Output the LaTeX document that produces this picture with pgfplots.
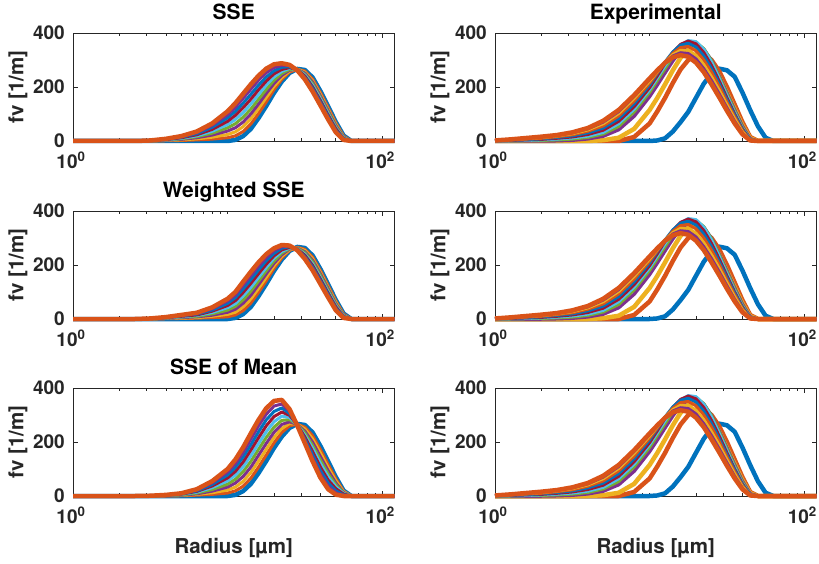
\documentclass[border=0pt]{standalone}
\usepackage{fontspec}
\setmainfont{TeX Gyre Heros}
\usepackage{pgfplots}
\usepackage{pgfplotstable}
\pgfplotsset{compat=1.18}

\definecolor{mb}{HTML}{0072BD}
\definecolor{mo}{HTML}{D95319}
\definecolor{my}{HTML}{EDB120}
\definecolor{mp}{HTML}{7E2F8E}
\definecolor{mg}{HTML}{77AC30}
\definecolor{mc}{HTML}{4DBEEE}
\definecolor{mr}{HTML}{A2142F}
\definecolor{axgray}{HTML}{262626}

\newcommand{\tickfont}{\bfseries\fontsize{19}{21}\selectfont}
\newcommand{\labfont}{\bfseries\fontsize{20.5}{23}\selectfont}
\newcommand{\titfont}{\bfseries\fontsize{21}{24}\selectfont}

% fitted size distributions, fv [1/m] against radius [um]
\pgfplotstableread{
r b k1 k2 k3 k4 k5 k6 k7 k8 o
1 0 0 0 0 0 0 0 0 0 0
2.512 0 0 0 0 0 0 0 0 0 0
3.162 0 0 0 1 1 1 1 2 2 2
3.981 0 1 2 3 4 4 5 6 7 8
5.012 0 2 4 6 8 10 12 14 16 18
6.310 0 4 8 12 16 19 23 27 31 35
7.943 0 7 14 22 29 36 43 51 58 65
10 0 12 24 37 49 61 73 86 98 110
11.22 4 19 34 49 64 80 95 110 125 140
12.59 18 35 53 70 88 105 123 140 158 175
14.13 45 63 82 100 118 137 155 173 192 210
15.85 85 102 120 137 155 172 190 207 225 242
17.78 130 145 161 176 191 207 222 237 253 268
19.95 178 190 202 213 225 237 249 260 272 284
22.39 220 228 235 243 250 258 265 273 280 288
25.12 252 255 259 262 265 269 272 275 279 282
28.18 267 266 266 265 265 264 264 263 263 262
31.62 263 259 255 251 247 244 240 236 232 228
35.48 235 229 223 218 212 206 200 195 189 183
39.81 185 179 173 167 161 156 150 144 138 132
44.67 128 123 117 112 107 101 96 91 85 80
50.12 70 66 62 57 53 49 45 40 36 32
56.23 20 18 16 15 13 11 9 8 6 4
63.10 0 0 0 0 0 0 0 0 0 0
120 0 0 0 0 0 0 0 0 0 0
}\sse

\pgfplotstableread{
r b k1 k2 k3 k4 k5 k6 k7 k8 o
1 0 0 0 0 0 0 0 0 0 0
2.512 0 0 0 0 0 0 0 0 0 0
3.162 0 0 0 1 1 1 1 2 2 2
3.981 0 1 2 2 3 4 5 5 6 7
5.012 0 2 3 5 7 8 10 12 13 15
6.310 0 3 5 8 10 13 15 18 20 23
7.943 0 5 10 14 19 24 29 33 38 43
10 0 8 17 25 33 42 50 58 67 75
11.22 4 15 25 36 47 57 68 79 89 100
12.59 18 31 45 58 71 85 98 111 125 138
14.13 45 59 74 88 103 117 132 146 161 175
15.85 85 99 113 127 141 154 168 182 196 210
17.78 130 142 154 167 179 191 203 216 228 240
19.95 178 187 197 206 215 225 234 243 253 262
22.39 220 226 232 238 244 250 256 262 268 274
25.12 252 254 256 259 261 263 265 268 270 272
28.18 267 266 264 263 262 260 259 258 256 255
31.62 263 258 254 249 245 240 236 231 227 222
35.48 235 229 223 217 211 204 198 192 186 180
39.81 185 179 173 167 161 154 148 142 136 130
44.67 128 123 117 112 107 101 96 91 85 80
50.12 70 66 62 57 53 49 45 40 36 32
56.23 20 18 16 15 13 11 9 8 6 4
63.10 0 0 0 0 0 0 0 0 0 0
120 0 0 0 0 0 0 0 0 0 0
}\wsse

\pgfplotstableread{
r b k1 k2 k3 k4 k5 k6 k7 k8 o
1 0 0 0 0 0 0 0 0 0 0
2.512 0 0 0 0 0 0 0 0 0 0
3.162 0 0 0 0 0 1 1 1 1 1
3.981 0 0 1 1 2 2 3 3 4 4
5.012 0 1 2 3 4 6 7 8 9 10
6.310 0 3 6 8 11 14 17 19 22 25
7.943 0 6 12 18 24 31 37 43 49 55
10 0 11 22 33 44 56 67 78 89 100
11.22 4 19 33 48 62 77 91 106 120 135
12.59 18 36 54 72 90 108 126 144 162 180
14.13 45 66 87 107 128 149 170 190 211 232
15.85 85 107 129 151 173 194 216 238 260 282
17.78 130 152 173 195 217 238 260 282 303 325
19.95 178 197 217 236 255 275 294 313 333 352
22.39 220 235 250 265 280 296 311 326 341 356
25.12 252 260 268 275 283 291 299 306 314 322
28.18 267 266 266 265 265 264 264 263 263 262
31.62 263 255 248 240 233 225 218 210 203 195
35.48 235 223 211 199 187 176 164 152 140 128
39.81 185 172 159 146 133 120 107 94 81 68
44.67 128 117 105 94 82 71 59 48 36 25
50.12 70 63 56 48 41 34 27 19 12 5
56.23 20 18 16 13 11 9 7 4 2 0
63.10 0 0 0 0 0 0 0 0 0 0
120 0 0 0 0 0 0 0 0 0 0
}\mean

\pgfplotstableread{
r b o2 y3 c4 c5 c6 c7 c8 c9 c10 c11 o12
1 0 0 0 0 0 0 1 1 1 2 2 2
1.259 0 0 0 0 0 1 2 3 4 5 5 6
1.585 0 0 0 0 1 2 4 5 7 9 10 11
1.995 0 0 0 0 2 4 6 8 10 13 15 16
2.512 0 0 0 1 4 7 10 13 16 19 21 22
3.162 0 0 0 3 7 11 15 19 23 27 30 32
3.981 0 0 0 8 13 18 24 30 36 41 45 48
5.012 0 0 3 18 26 32 40 48 56 64 70 75
6.310 0 0 12 42 54 64 73 83 93 102 109 115
7.943 0 15 45 92 108 118 127 138 148 158 165 170
10 0 65 115 165 180 190 198 208 215 222 228 232
11.22 2 110 160 208 224 234 242 250 253 257 260 262
12.59 10 160 210 253 268 279 288 293 292 291 290 290
14.13 35 215 262 297 312 322 328 330 325 320 315 310
15.85 70 265 308 334 347 356 358 355 346 336 327 318
17.78 108 300 338 357 367 372 370 362 350 336 324 312
19.95 160 320 348 360 366 368 360 348 334 318 304 290
22.39 212 322 330 340 342 340 328 315 300 283 268 255
25.12 250 300 290 298 298 293 280 268 255 238 224 210
28.18 268 258 238 240 238 232 222 212 202 188 175 162
31.62 262 200 178 178 175 168 160 152 144 134 123 112
35.48 238 135 118 115 112 106 100 95 89 82 73 65
39.81 180 70 58 55 52 48 45 42 38 34 29 25
44.67 115 15 10 8 6 5 4 4 3 3 2 2
50.12 55 0 0 0 0 0 0 0 0 0 0 0
56.23 12 0 0 0 0 0 0 0 0 0 0 0
63.10 0 0 0 0 0 0 0 0 0 0 0 0
120 0 0 0 0 0 0 0 0 0 0 0 0
}\expt

\pgfplotsset{
  panel/.style={
    scale only axis, width=321.5pt, height=108pt, anchor=south west,
    xmin=1, xmax=120, ymin=0, ymax=400,
    xtick={1,100}, xticklabels={10\textsuperscript{0},10\textsuperscript{2}},
    minor xtick={2,3,4,5,6,7,8,9,10,20,30,40,50,60,70,80,90},
    ytick={0,200,400}, yticklabels={0,200,400},
    tick pos=both, xticklabel pos=lower, yticklabel pos=left,
    tick align=inside, major tick length=5pt, minor tick length=3pt,
    axis line style={axgray, line width=0.8pt},
    every tick/.style={axgray, line width=0.7pt},
    ticklabel style={font=\tickfont, text=axgray},
    xticklabel style={inner sep=0pt, anchor=north, yshift=-11pt, xshift=-2pt},
    yticklabel style={inner sep=0pt, anchor=east, xshift=-8pt},
    ylabel={fv [1/m]},
    ylabel style={at={([xshift=-55pt]axis description cs:0,0.5)}, anchor=center,
                  font=\labfont, text=axgray},
    xlabel style={at={([yshift=-52pt]axis description cs:0.5,0)}, anchor=center,
                  font=\labfont, text=axgray},
    title style={at={(0.5,1)}, anchor=base, yshift=8pt, font=\titfont, text=black},
    clip=false,
    every axis plot/.append style={line join=round, no markers},
  },
}

\newcommand{\leftcurves}[1]{%
  \addplot[mb, line width=4.5pt] table[x=r,y=b]{#1};
  \addplot[mo, line width=3pt] table[x=r,y=k1]{#1};
  \addplot[my, line width=3pt] table[x=r,y=k2]{#1};
  \addplot[mp, line width=3pt] table[x=r,y=k3]{#1};
  \addplot[mg, line width=3pt] table[x=r,y=k4]{#1};
  \addplot[mc, line width=3pt] table[x=r,y=k5]{#1};
  \addplot[mr, line width=3pt] table[x=r,y=k6]{#1};
  \addplot[mb, line width=3pt] table[x=r,y=k7]{#1};
  \addplot[mp, line width=3pt] table[x=r,y=k8]{#1};
  \addplot[mo, line width=4.5pt] table[x=r,y=o]{#1};
}

\newcommand{\expcurves}{%
  \addplot[mb, line width=4.5pt] table[x=r,y=b]{\expt};
  \addplot[mo, line width=4.5pt] table[x=r,y=o2]{\expt};
  \addplot[my, line width=4.5pt] table[x=r,y=y3]{\expt};
  \addplot[mp, line width=3.5pt] table[x=r,y=c4]{\expt};
  \addplot[mg, line width=3pt] table[x=r,y=c5]{\expt};
  \addplot[mc, line width=3pt] table[x=r,y=c6]{\expt};
  \addplot[mr, line width=3pt] table[x=r,y=c7]{\expt};
  \addplot[mb, line width=3pt] table[x=r,y=c8]{\expt};
  \addplot[mo, line width=3pt] table[x=r,y=c9]{\expt};
  \addplot[my, line width=3pt] table[x=r,y=c10]{\expt};
  \addplot[mp, line width=3pt] table[x=r,y=c11]{\expt};
  \addplot[mo, line width=4.5pt] table[x=r,y=o12]{\expt};
}

\begin{document}
\begin{tikzpicture}
\useasboundingbox (0,0) rectangle (819pt,563pt);

\begin{semilogxaxis}[panel, at={(73pt,422pt)}, title={SSE}]
\leftcurves{\sse}
\end{semilogxaxis}
\begin{semilogxaxis}[panel, at={(495pt,422pt)}, title={Experimental}]
\expcurves
\end{semilogxaxis}

\begin{semilogxaxis}[panel, at={(73pt,244pt)}, title={Weighted SSE}]
\leftcurves{\wsse}
\end{semilogxaxis}
\begin{semilogxaxis}[panel, at={(495pt,244pt)}]
\expcurves
\end{semilogxaxis}

\begin{semilogxaxis}[panel, at={(73pt,67pt)}, title={SSE of Mean}, xlabel={Radius [µm]}]
\leftcurves{\mean}
\end{semilogxaxis}
\begin{semilogxaxis}[panel, at={(495pt,67pt)}, xlabel={Radius [µm]}]
\expcurves
\end{semilogxaxis}
\end{tikzpicture}
\end{document}
